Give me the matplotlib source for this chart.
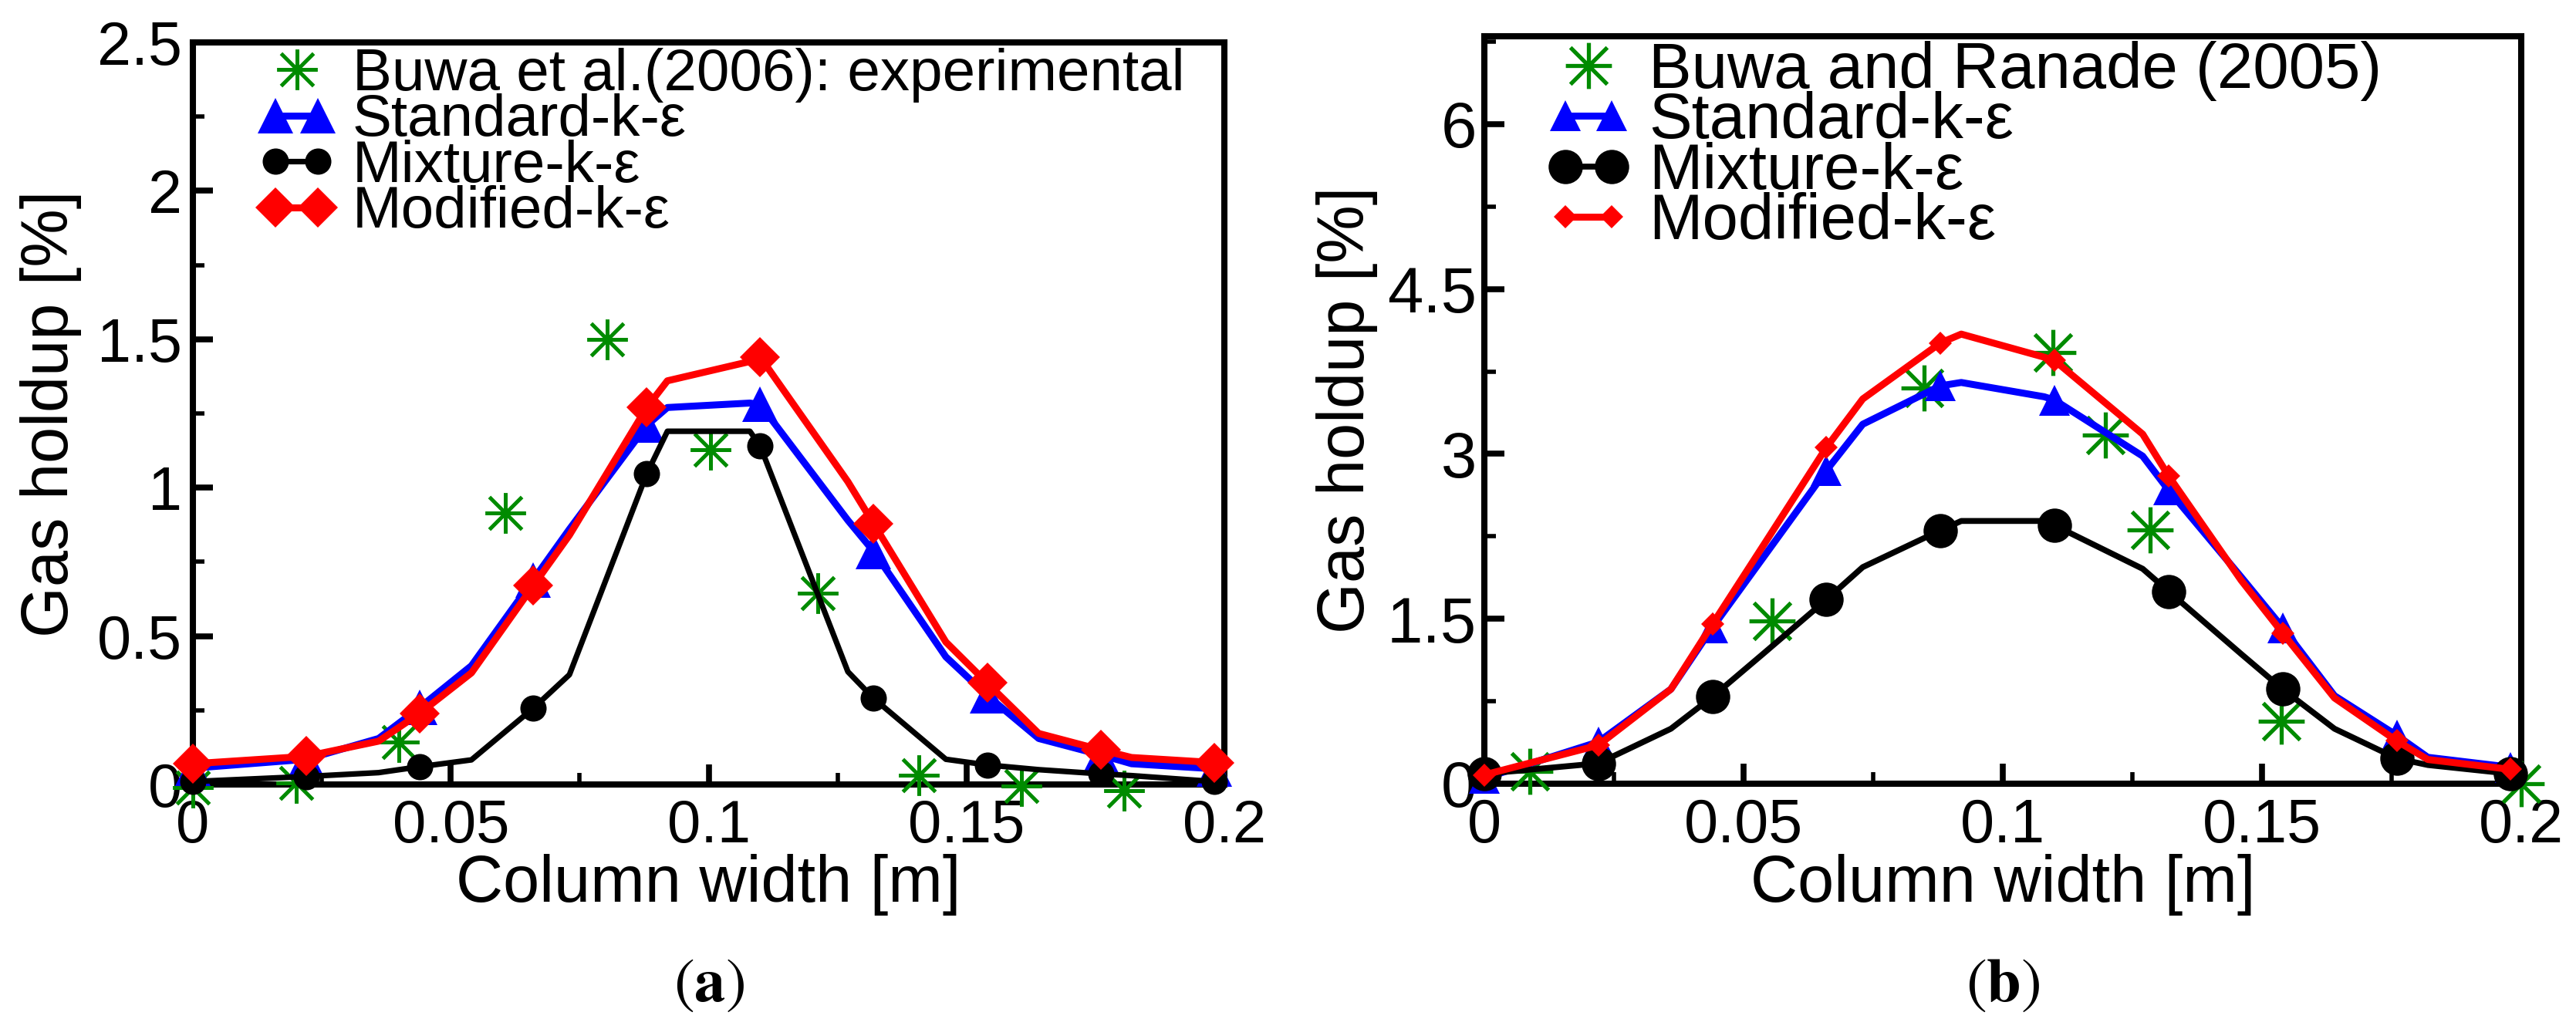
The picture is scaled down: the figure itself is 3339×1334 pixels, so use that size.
import numpy as np
import matplotlib
matplotlib.use('Agg')
import matplotlib.pyplot as plt
from matplotlib.path import Path
from matplotlib.lines import Line2D
from matplotlib.legend_handler import HandlerLine2D
from matplotlib.ticker import MultipleLocator

plt.rcParams['font.family'] = ['Liberation Sans', 'DejaVu Sans']
plt.rcParams['mathtext.fontset'] = 'stix'

GREEN = '#008b00'
BLUE = '#0000ff'
RED = '#ff0000'

# profile points of the simulations (same radial grid in both panels)
x_cfd = [0.000, 0.022, 0.036, 0.044, 0.054, 0.066, 0.073, 0.088, 0.092, 0.108,
         0.110, 0.127, 0.132, 0.146, 0.154, 0.164, 0.176, 0.182, 0.198]
mark_idx = [0, 1, 3, 5, 7, 10, 12, 14, 16, 18]

# (a)
a_exp_x = [0.0, 0.020, 0.040, 0.0605, 0.0803, 0.1004, 0.1212, 0.1407, 0.1606, 0.1806]
a_exp_y = [-0.01, 0.005, 0.142, 0.915, 1.50, 1.128, 0.645, 0.03, -0.005, -0.02]
a_std = [0.055, 0.085, 0.155, 0.26, 0.40, 0.69, 0.86, 1.21, 1.27, 1.285,
         1.28, 0.89, 0.785, 0.43, 0.30, 0.155, 0.10, 0.07, 0.053]
a_mix = [0.01, 0.027, 0.04, 0.06, 0.083, 0.257, 0.37, 1.047, 1.19, 1.19,
         1.14, 0.38, 0.29, 0.085, 0.066, 0.05, 0.036, 0.03, 0.01]
a_mod = [0.07, 0.095, 0.146, 0.24, 0.376, 0.67, 0.84, 1.27, 1.36, 1.425,
         1.44, 1.02, 0.878, 0.48, 0.342, 0.172, 0.117, 0.091, 0.074]

# (b)
b_exp_x = [0.0088, 0.0555, 0.0848, 0.1097, 0.1198, 0.1284, 0.1537, 0.2]
b_exp_y = [0.11, 1.48, 3.60, 3.92, 3.17, 2.31, 0.57, 0.0]
b_std = [0.05, 0.38, 0.86, 1.42, 2.07, 2.85, 3.27, 3.62, 3.65, 3.52,
         3.49, 2.98, 2.67, 1.88, 1.42, 0.80, 0.44, 0.24, 0.15]
b_mix = [0.09, 0.185, 0.50, 0.79, 1.19, 1.675, 1.97, 2.305, 2.39, 2.39,
         2.35, 1.955, 1.75, 1.18, 0.86, 0.50, 0.23, 0.17, 0.09]
b_mod = [0.08, 0.35, 0.86, 1.45, 2.18, 3.06, 3.50, 4.01, 4.09, 3.88,
         3.85, 3.18, 2.80, 1.85, 1.37, 0.78, 0.39, 0.22, 0.13]

x_ticks = [0, 0.05, 0.1, 0.15, 0.2]
x_labels = ['0', '0.05', '0.1', '0.15', '0.2']
a_yticks = [0, 0.5, 1, 1.5, 2, 2.5]
a_ylabels = ['0', '0.5', '1', '1.5', '2', '2.5']
b_yticks = [0, 1.5, 3, 4.5, 6]
b_ylabels = ['0', '1.5', '3', '4.5', '6']

model_labels = ['Standard-k-\u03b5', 'Mixture-k-\u03b5', 'Modified-k-\u03b5']

# xmgrace-like asterisk
star = Path([(-1, 0), (1, 0), (0, -1), (0, 1), (-0.8, -0.8), (0.8, 0.8), (-0.8, 0.8), (0.8, -0.8)],
            [Path.MOVETO, Path.LINETO] * 4)


def draw_panel(ax, ex_x, ex_y, ex_label, std, mix, mod, sz):
    ax.plot(ex_x, ex_y, ls='none', marker=star, ms=sz['star'], mfc='none', mec=GREEN,
            mew=sz['star_w'], clip_on=False, zorder=3)
    ax.plot(x_cfd, std, color=BLUE, lw=sz['lw'], marker='^', ms=sz['tri'], mew=0,
            markevery=mark_idx, clip_on=False, zorder=4)
    ax.plot(x_cfd, mix, color='black', lw=sz['lw_mix'], marker='o', ms=sz['circ'], mew=0,
            markevery=mark_idx, clip_on=False, zorder=5)
    ax.plot(x_cfd, mod, color=RED, lw=sz['lw'], marker='D', ms=sz['dia'], mew=0,
            markevery=mark_idx, clip_on=False, zorder=6)

    # legend proxies
    h_ex = Line2D([], [], ls='none', marker=star, ms=sz['star'], mfc='none', mec=GREEN, mew=sz['star_w'])
    h_std = Line2D([], [], color=BLUE, lw=sz['lw'], marker='^', ms=sz['tri'], mew=0)
    h_mix = Line2D([], [], color='black', lw=sz['lw_mix'], marker='o', ms=sz['circ'], mew=0)
    h_mod = Line2D([], [], color=RED, lw=sz['lw'], marker='D', ms=sz['dia'], mew=0)
    ax.legend([h_ex, h_std, h_mix, h_mod], [ex_label] + model_labels,
              loc='upper left', bbox_to_anchor=sz['leg_pos'], frameon=False,
              fontsize=sz['leg_fs'], numpoints=2, handlelength=1.32, handletextpad=0.28,
              labelspacing=-0.15, borderpad=0, borderaxespad=0,
              handler_map={h_ex: HandlerLine2D(numpoints=1)})

    ax.set_xlim(0, 0.2)
    ax.set_xticks(x_ticks, x_labels)
    ax.xaxis.set_minor_locator(MultipleLocator(0.025))
    ax.tick_params(which='both', direction='in', top=False, right=False)
    ax.tick_params(which='major', length=19, width=5.5)
    ax.tick_params(which='minor', length=11, width=4)
    ax.tick_params(axis='x', pad=13, labelsize=sz['xt_fs'])
    ax.tick_params(axis='y', pad=sz['ypad'], labelsize=sz['yt_fs'])
    for s in ax.spines.values():
        s.set_linewidth(5.8)
    ax.set_xlabel('Column width [m]', fontsize=61)
    ax.set_ylabel('Gas holdup [%]', fontsize=61)
    ax.xaxis.set_label_coords(0.5, -0.094)
    ax.yaxis.set_label_coords(sz['ylab_x'], 0.5)


fig = plt.figure(figsize=(33.39, 13.34), dpi=100)
ax1 = fig.add_axes([0.0749, 0.2376, 0.4004, 0.7212])
ax2 = fig.add_axes([0.5762, 0.2384, 0.4025, 0.7264])

size_a = dict(star=38, star_w=3.6, tri=33, circ=24.5, dia=26.5, lw=6.5, lw_mix=5.2,
              leg_fs=55, leg_pos=(0.063, 0.993), xt_fs=56, yt_fs=57, ypad=10, ylab_x=-0.108)
size_b = dict(star=43, star_w=3.8, tri=29, circ=32, dia=15.5, lw=6.5, lw_mix=5.5,
              leg_fs=60, leg_pos=(0.0595, 0.994), xt_fs=57, yt_fs=60, ypad=7, ylab_x=-0.103)

draw_panel(ax1, a_exp_x, a_exp_y, 'Buwa et al.(2006): experimental', a_std, a_mix, a_mod, size_a)
ax1.set_ylim(0, 2.5)
ax1.set_yticks(a_yticks, a_ylabels)
ax1.yaxis.set_minor_locator(MultipleLocator(0.25))

draw_panel(ax2, b_exp_x, b_exp_y, 'Buwa and Ranade (2005)', b_std, b_mix, b_mod, size_b)
ax2.set_ylim(0, 6.8)
ax2.set_yticks(b_yticks, b_ylabels)
ax2.yaxis.set_minor_locator(MultipleLocator(0.75))

fig.text(0.0749 + 0.4004 / 2, 0.0427, r'$(\mathbf{a})$', fontsize=58, ha='center', va='center')
fig.text(0.5762 + 0.4025 / 2, 0.0427, r'$(\mathbf{b})$', fontsize=58, ha='center', va='center')

fig.savefig('out.png', dpi=100)
